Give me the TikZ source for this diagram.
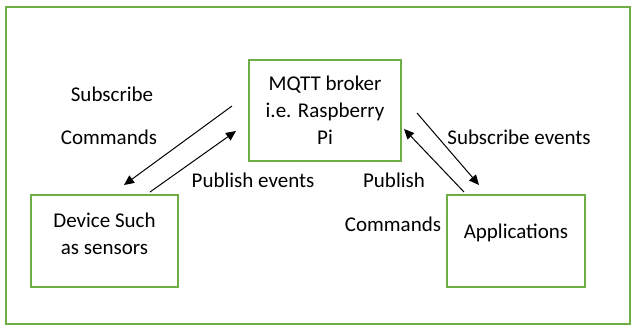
\documentclass[tikz,border=0pt]{standalone}
\usepackage{fontspec}
\setmainfont{Carlito}
\usepackage{tikz}
\usetikzlibrary{arrows.meta, positioning}
\definecolor{officegreen}{RGB}{112,173,71}

\begin{document}
\begin{tikzpicture}[x=0.5pt, y=-0.5pt]
		\tikzstyle{boxr}=[draw=officegreen, line width=1pt, align=center, inner sep=0pt, font=\fontsize{10.5}{13.5}\selectfont]
		\tikzstyle{lbl}=[inner sep=0pt, font=\fontsize{10.5}{13.5}\selectfont]
		\tikzstyle{arr}=[line width=0.5pt, -{Triangle[length=5pt, width=4.5pt]}]
		
		\useasboundingbox (0,0) rectangle (632,329);
		\draw[officegreen, line width=1pt] (6,7) rectangle (630,324);
		
		\node[boxr, minimum width=76pt, minimum height=50.5pt](Br) at (325,110) {MQTT broker\\i.e. Raspberry\\Pi};
		\node[boxr, minimum width=73.5pt, minimum height=46pt, text depth=7pt](Dev) at (104.5,241) {Device Such\\as sensors};
		\node[boxr, minimum width=69pt, minimum height=46pt, text depth=9.5pt](App) at (516,241) {Applications};
		
		%% arrow ends
		\coordinate (s1) at (232,106);
		\coordinate (s2) at (124,185);
		\coordinate (p1) at (150,192);
		\coordinate (p2) at (236,131);
		\coordinate (e1) at (417,113);
		\coordinate (e2) at (479,185);
		\coordinate (c1) at (464,192);
		\coordinate (c2) at (404,129);
		
		\draw[arr] (s1)--(s2);
		\draw[arr] (p1)--(p2);
		\draw[arr] (e1)--(e2);
		\draw[arr] (c1)--(c2);
		
		\node[lbl](Lsub) at (112,94) {Subscribe};
		\node[lbl](Lcom) at (109,137) {Commands};
		\node[lbl](Lpub) at (253,180) {Publish events};
		\node[lbl](Lsev) at (519,137) {Subscribe events};
		\node[lbl](Lpc) at (394,180) {Publish};
		\node[lbl](Lpcc) at (393,224) {Commands};
\end{tikzpicture}
\end{document}
